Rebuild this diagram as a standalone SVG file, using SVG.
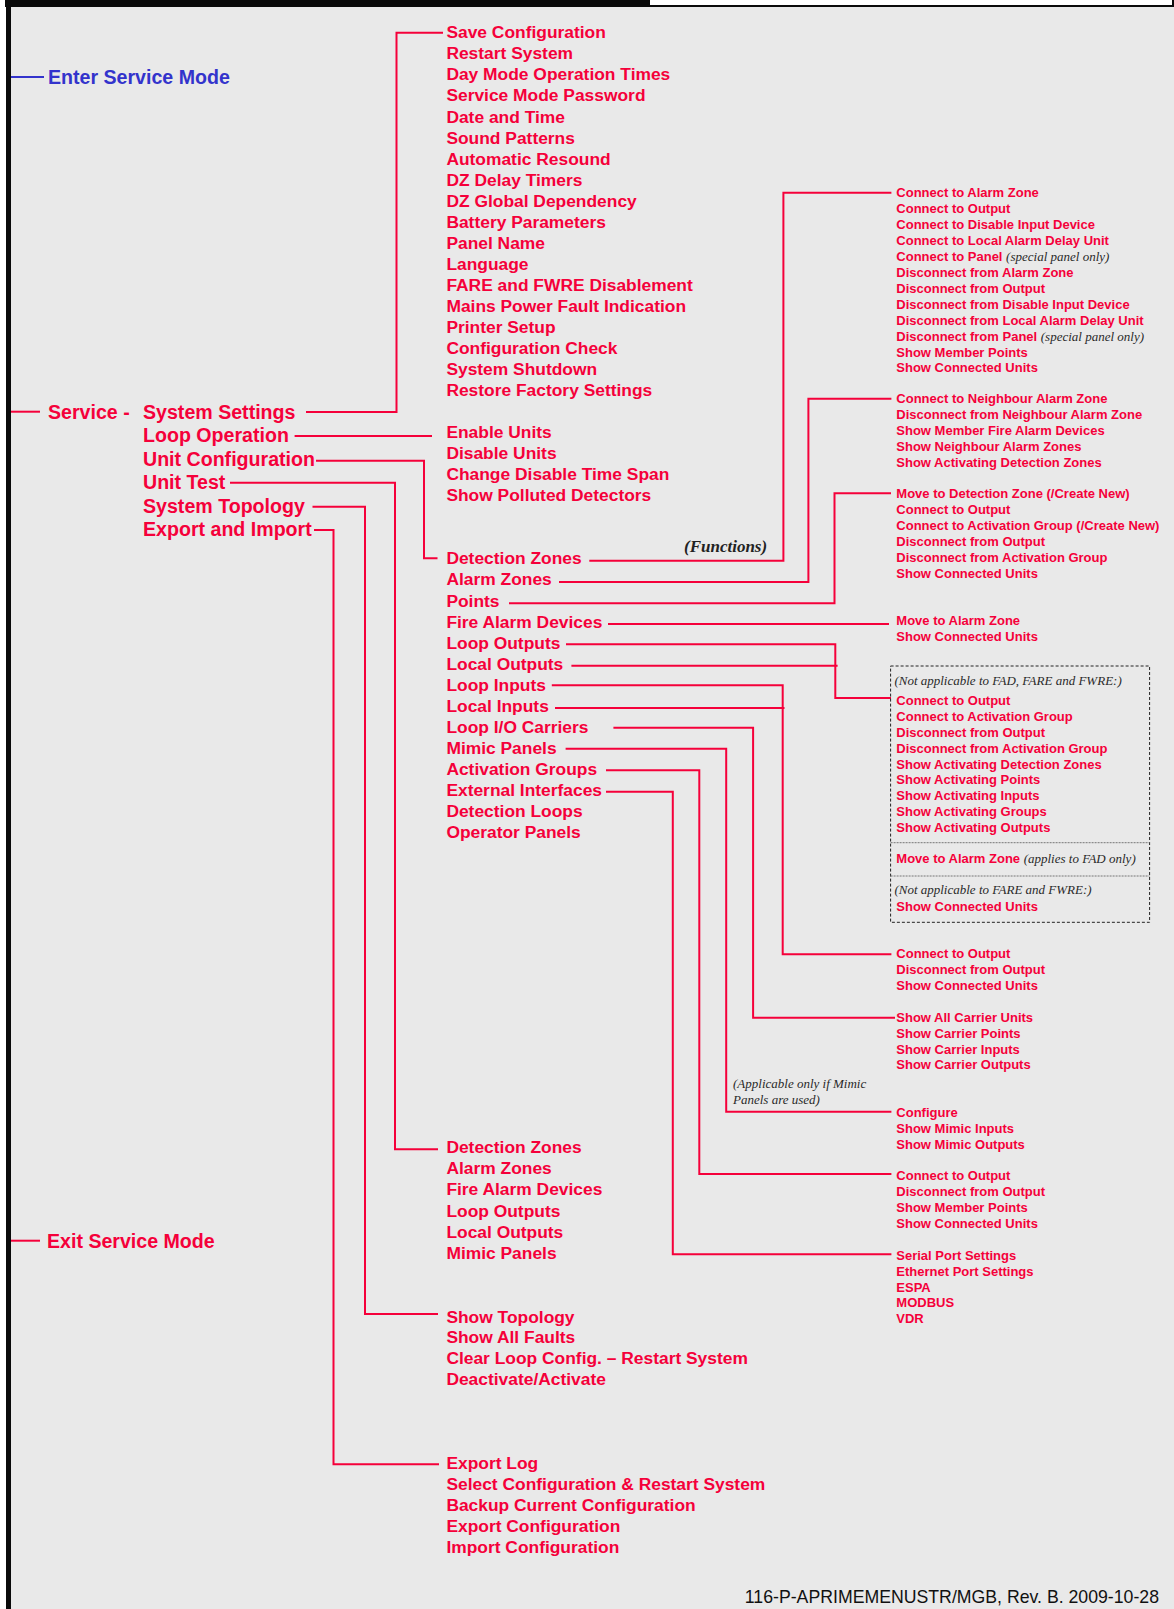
<svg xmlns="http://www.w3.org/2000/svg" width="1174" height="1609" viewBox="0 0 1174 1609">
<style>
text{font-family:"Liberation Sans",Arial,sans-serif;font-weight:bold;fill:#F5003A}
.l1{font-size:19.6px}
.l3{font-size:17.4px}
.s{font-size:13px}
.n{font-family:"Liberation Serif","Times New Roman",serif;font-style:italic;font-weight:normal;font-size:13px;fill:#2a2a2a}
.blue{fill:#3333CC}
#connectors path{fill:none;stroke:#F5003A;stroke-width:2}
</style>
<rect x="0" y="0" width="1174" height="1609" fill="#ffffff"/>
<rect x="11" y="7" width="1163" height="1602" fill="#E9E9E9"/>
<rect x="5" y="0" width="645" height="7" fill="#0a0a0a"/>
<rect x="650" y="5" width="524" height="2" fill="#0a0a0a"/>
<rect x="1172" y="0" width="2" height="7" fill="#0a0a0a"/>
<rect x="6" y="0" width="5" height="1609" fill="#0a0a0a"/>

<g id="connectors">
<path d="M11 77H44" style="stroke:#3333CC"/>
<path d="M11 411.7H40"/>
<path d="M11 1240.7H40"/>
<path d="M306 412H396.5V32.7H443"/>
<path d="M294.6 436H432"/>
<path d="M316 460.7H424V558.3H437.5"/>
<path d="M230 482.7H395V1149.3H438"/>
<path d="M312.5 506.7H365V1314H438"/>
<path d="M314 530H333.5V1464.3H439"/>
<path d="M589.3 560.7H783.4V192.7H891.4"/>
<path d="M559 582H808.4V398.7H891.4"/>
<path d="M509 603.3H834.5V493.3H891"/>
<path d="M608 624H889"/>
<path d="M566 644.3H835.3V698H891"/>
<path d="M571.4 665.7H837.6"/>
<path d="M551.8 685.3H782.7V954.3H891.4"/>
<path d="M555 708H784.5"/>
<path d="M613.4 727.7H753.1V1017.7H895"/>
<path d="M565.6 748.7H726.2V1111.7H891.4"/>
<path d="M606 770.3H699.3V1174H891.4"/>
<path d="M606 791.7H672.8V1254.3H891.4"/>
</g>

<g id="enter-service-mode"><text class="l1 blue" x="48" y="84">Enter Service Mode</text></g>
<g id="service"><text class="l1" x="48" y="419">Service -</text></g>
<g id="exit-service-mode"><text class="l1" x="47" y="1247.7">Exit Service Mode</text></g>

<g id="service-menu">
<text class="l1" x="143" y="419">System Settings</text>
<text class="l1" x="143" y="442.4">Loop Operation</text>
<text class="l1" x="143" y="465.8">Unit Configuration</text>
<text class="l1" x="143" y="489.2">Unit Test</text>
<text class="l1" x="143" y="512.6">System Topology</text>
<text class="l1" x="143" y="536">Export and Import</text>
</g>

<g id="system-settings">
<text class="l3" x="446.4" y="38.3">Save Configuration</text>
<text class="l3" x="446.4" y="59.3">Restart System</text>
<text class="l3" x="446.4" y="80.4">Day Mode Operation Times</text>
<text class="l3" x="446.4" y="101.4">Service Mode Password</text>
<text class="l3" x="446.4" y="122.5">Date and Time</text>
<text class="l3" x="446.4" y="143.5">Sound Patterns</text>
<text class="l3" x="446.4" y="164.5">Automatic Resound</text>
<text class="l3" x="446.4" y="185.6">DZ Delay Timers</text>
<text class="l3" x="446.4" y="206.6">DZ Global Dependency</text>
<text class="l3" x="446.4" y="227.7">Battery Parameters</text>
<text class="l3" x="446.4" y="248.7">Panel Name</text>
<text class="l3" x="446.4" y="269.7">Language</text>
<text class="l3" x="446.4" y="290.8">FARE and FWRE Disablement</text>
<text class="l3" x="446.4" y="311.8">Mains Power Fault Indication</text>
<text class="l3" x="446.4" y="332.9">Printer Setup</text>
<text class="l3" x="446.4" y="353.9">Configuration Check</text>
<text class="l3" x="446.4" y="374.9">System Shutdown</text>
<text class="l3" x="446.4" y="396">Restore Factory Settings</text>
</g>

<g id="loop-operation">
<text class="l3" x="446.4" y="437.5">Enable Units</text>
<text class="l3" x="446.4" y="458.7">Disable Units</text>
<text class="l3" x="446.4" y="479.9">Change Disable Time Span</text>
<text class="l3" x="446.4" y="501.1">Show Polluted Detectors</text>
</g>

<g id="unit-configuration">
<text class="l3" x="446.4" y="564.4">Detection Zones</text>
<text class="l3" x="446.4" y="585.4">Alarm Zones</text>
<text class="l3" x="446.4" y="606.5">Points</text>
<text class="l3" x="446.4" y="627.5">Fire Alarm Devices</text>
<text class="l3" x="446.4" y="648.5">Loop Outputs</text>
<text class="l3" x="446.4" y="669.6">Local Outputs</text>
<text class="l3" x="446.4" y="690.6">Loop Inputs</text>
<text class="l3" x="446.4" y="711.6">Local Inputs</text>
<text class="l3" x="446.4" y="732.6">Loop I/O Carriers</text>
<text class="l3" x="446.4" y="753.7">Mimic Panels</text>
<text class="l3" x="446.4" y="774.7">Activation Groups</text>
<text class="l3" x="446.4" y="795.7">External Interfaces</text>
<text class="l3" x="446.4" y="816.8">Detection Loops</text>
<text class="l3" x="446.4" y="837.8">Operator Panels</text>
</g>

<g id="functions-label"><text x="684" y="551.7" style="font-family:'Liberation Serif','Times New Roman',serif;font-style:italic;font-weight:bold;font-size:17px;fill:#222">(Functions)</text></g>

<g id="dz-functions">
<text class="s" x="896.3" y="197.4">Connect to Alarm Zone</text>
<text class="s" x="896.3" y="213.3">Connect to Output</text>
<text class="s" x="896.3" y="229.2">Connect to Disable Input Device</text>
<text class="s" x="896.3" y="245.1">Connect to Local Alarm Delay Unit</text>
<text class="s" x="896.3" y="261">Connect to Panel <tspan class="n">(special panel only)</tspan></text>
<text class="s" x="896.3" y="277">Disconnect from Alarm Zone</text>
<text class="s" x="896.3" y="292.9">Disconnect from Output</text>
<text class="s" x="896.3" y="308.8">Disconnect from Disable Input Device</text>
<text class="s" x="896.3" y="324.7">Disconnect from Local Alarm Delay Unit</text>
<text class="s" x="896.3" y="340.6">Disconnect from Panel <tspan class="n">(special panel only)</tspan></text>
<text class="s" x="896.3" y="356.5">Show Member Points</text>
<text class="s" x="896.3" y="372.4">Show Connected Units</text>
</g>

<g id="az-functions">
<text class="s" x="896.3" y="403.4">Connect to Neighbour Alarm Zone</text>
<text class="s" x="896.3" y="419.4">Disconnect from Neighbour Alarm Zone</text>
<text class="s" x="896.3" y="435.4">Show Member Fire Alarm Devices</text>
<text class="s" x="896.3" y="451.4">Show Neighbour Alarm Zones</text>
<text class="s" x="896.3" y="467.4">Show Activating Detection Zones</text>
</g>

<g id="points-functions">
<text class="s" x="896.3" y="498">Move to Detection Zone (/Create New)</text>
<text class="s" x="896.3" y="514">Connect to Output</text>
<text class="s" x="896.3" y="530">Connect to Activation Group (/Create New)</text>
<text class="s" x="896.3" y="546">Disconnect from Output</text>
<text class="s" x="896.3" y="562">Disconnect from Activation Group</text>
<text class="s" x="896.3" y="578">Show Connected Units</text>
</g>

<g id="fad-functions">
<text class="s" x="896.3" y="625.4">Move to Alarm Zone</text>
<text class="s" x="896.3" y="641.4">Show Connected Units</text>
</g>

<g id="output-functions">
<rect x="890.6" y="666" width="259" height="256.3" fill="none" stroke="#222" stroke-width="1" stroke-dasharray="3,2"/>
<line x1="890.6" y1="842.7" x2="1149.6" y2="842.7" stroke="#777" stroke-width="1" stroke-dasharray="2,1"/>
<line x1="890.6" y1="876" x2="1149.6" y2="876" stroke="#777" stroke-width="1" stroke-dasharray="2,1"/>
<text class="n" x="894.4" y="685.4">(Not applicable to FAD, FARE and FWRE:)</text>
<text class="s" x="896.3" y="705.4">Connect to Output</text>
<text class="s" x="896.3" y="721.2">Connect to Activation Group</text>
<text class="s" x="896.3" y="737">Disconnect from Output</text>
<text class="s" x="896.3" y="752.7">Disconnect from Activation Group</text>
<text class="s" x="896.3" y="768.5">Show Activating Detection Zones</text>
<text class="s" x="896.3" y="784.3">Show Activating Points</text>
<text class="s" x="896.3" y="800.1">Show Activating Inputs</text>
<text class="s" x="896.3" y="815.8">Show Activating Groups</text>
<text class="s" x="896.3" y="831.6">Show Activating Outputs</text>
<text class="s" x="896.3" y="863.4">Move to Alarm Zone <tspan class="n">(applies to FAD only)</tspan></text>
<text class="n" x="894.4" y="894.4">(Not applicable to FARE and FWRE:)</text>
<text class="s" x="896.3" y="911.4">Show Connected Units</text>
</g>

<g id="input-functions">
<text class="s" x="896.3" y="958">Connect to Output</text>
<text class="s" x="896.3" y="974">Disconnect from Output</text>
<text class="s" x="896.3" y="990">Show Connected Units</text>
</g>

<g id="carrier-functions">
<text class="s" x="896.3" y="1022">Show All Carrier Units</text>
<text class="s" x="896.3" y="1037.8">Show Carrier Points</text>
<text class="s" x="896.3" y="1053.6">Show Carrier Inputs</text>
<text class="s" x="896.3" y="1069.4">Show Carrier Outputs</text>
</g>

<g id="mimic-note">
<text class="n" x="733" y="1088.3">(Applicable only if Mimic</text>
<text class="n" x="733" y="1104.3">Panels are used)</text>
</g>

<g id="mimic-functions">
<text class="s" x="896.3" y="1117.4">Configure</text>
<text class="s" x="896.3" y="1133.4">Show Mimic Inputs</text>
<text class="s" x="896.3" y="1149.4">Show Mimic Outputs</text>
</g>

<g id="activation-group-functions">
<text class="s" x="896.3" y="1180.4">Connect to Output</text>
<text class="s" x="896.3" y="1196.3">Disconnect from Output</text>
<text class="s" x="896.3" y="1212.2">Show Member Points</text>
<text class="s" x="896.3" y="1228">Show Connected Units</text>
</g>

<g id="external-interface-functions">
<text class="s" x="896.3" y="1260.4">Serial Port Settings</text>
<text class="s" x="896.3" y="1276">Ethernet Port Settings</text>
<text class="s" x="896.3" y="1291.7">ESPA</text>
<text class="s" x="896.3" y="1307.3">MODBUS</text>
<text class="s" x="896.3" y="1323">VDR</text>
</g>

<g id="unit-test">
<text class="l3" x="446.4" y="1153">Detection Zones</text>
<text class="l3" x="446.4" y="1174.1">Alarm Zones</text>
<text class="l3" x="446.4" y="1195.3">Fire Alarm Devices</text>
<text class="l3" x="446.4" y="1216.5">Loop Outputs</text>
<text class="l3" x="446.4" y="1237.6">Local Outputs</text>
<text class="l3" x="446.4" y="1258.8">Mimic Panels</text>
</g>

<g id="system-topology">
<text class="l3" x="446.4" y="1322.5">Show Topology</text>
<text class="l3" x="446.4" y="1343.4">Show All Faults</text>
<text class="l3" x="446.4" y="1364.3">Clear Loop Config. – Restart System</text>
<text class="l3" x="446.4" y="1385.2">Deactivate/Activate</text>
</g>

<g id="export-import">
<text class="l3" x="446.4" y="1469.2">Export Log</text>
<text class="l3" x="446.4" y="1490.2">Select Configuration &amp; Restart System</text>
<text class="l3" x="446.4" y="1511.2">Backup Current Configuration</text>
<text class="l3" x="446.4" y="1532.2">Export Configuration</text>
<text class="l3" x="446.4" y="1553.2">Import Configuration</text>
</g>

<g id="footer"><text x="1159" y="1603" text-anchor="end" style="font-weight:normal;font-size:17.7px;fill:#111">116-P-APRIMEMENUSTR/MGB, Rev. B. 2009-10-28</text></g>
</svg>
